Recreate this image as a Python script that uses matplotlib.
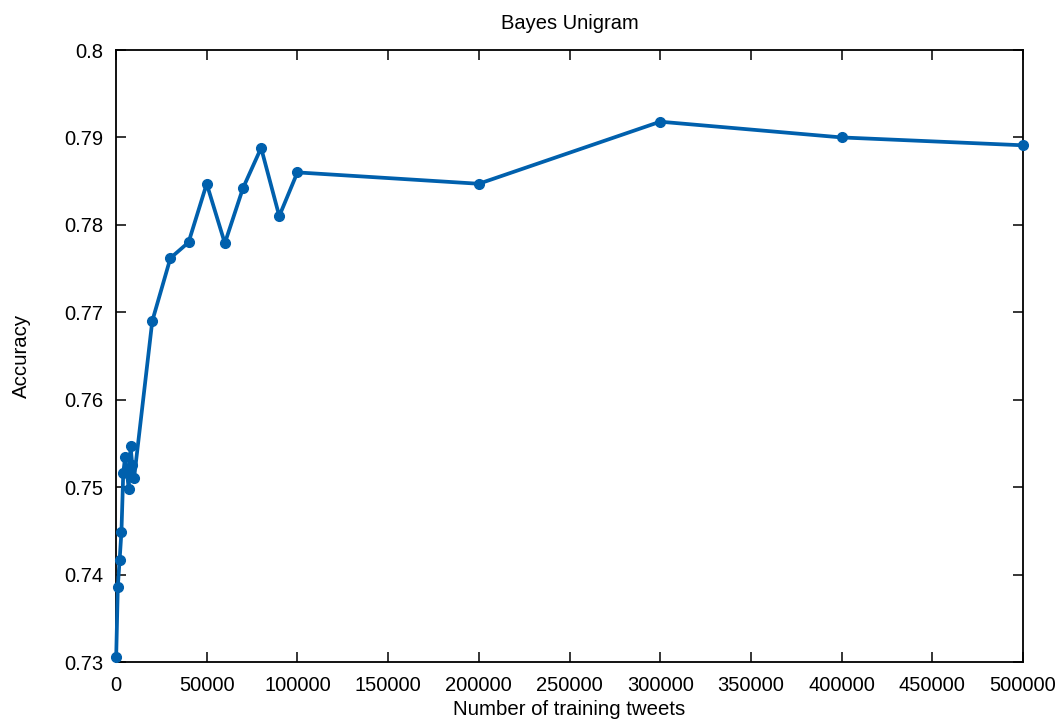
import matplotlib
matplotlib.use("Agg")
import matplotlib.pyplot as plt

plt.rcParams['font.family'] = ['Liberation Sans', 'DejaVu Sans']

# training set sizes and measured accuracy
train_sizes = [100, 1000, 2000, 3000, 4000, 5000, 6000, 7000, 8000, 9000, 10000,
               20000, 30000, 40000, 50000, 60000, 70000, 80000, 90000, 100000,
               200000, 300000, 400000, 500000]
accuracy = [0.7306, 0.7386, 0.7417, 0.7449, 0.7516, 0.7534, 0.7518, 0.7498,
            0.7547, 0.7525, 0.7511,
            0.7690, 0.7762, 0.7780, 0.7847, 0.7779, 0.7842, 0.7888, 0.7810,
            0.7860,
            0.7847, 0.7918, 0.7900, 0.7891]

x_ticks = [0, 50000, 100000, 150000, 200000, 250000, 300000, 350000, 400000,
           450000, 500000]
y_ticks = [0.73, 0.74, 0.75, 0.76, 0.77, 0.78, 0.79, 0.8]
y_tick_labels = ['0.73', '0.74', '0.75', '0.76', '0.77', '0.78', '0.79', '0.8']

fig = plt.figure(figsize=(10.62, 7.25), dpi=100)
ax = fig.add_axes([116 / 1062, 1 - 662 / 725, (1023 - 116) / 1062, (662 - 50) / 725])

ax.plot(train_sizes, accuracy, color='#0060ad', linewidth=2.7, marker='o',
        markersize=7, clip_on=False, zorder=3)

ax.set_xlim(0, 500000)
ax.set_ylim(0.73, 0.8)
ax.set_xticks(x_ticks)
ax.set_xticklabels([str(t) for t in x_ticks])
ax.set_yticks(y_ticks)
ax.set_yticklabels(y_tick_labels)

ax.tick_params(axis='both', direction='in', length=7, width=1.1, top=True,
               right=True, labelsize=14.5)
ax.tick_params(axis='x', pad=10)
ax.tick_params(axis='y', pad=9)
for side in ax.spines.values():
    side.set_linewidth(1.3)

ax.set_title('Bayes Unigram', fontsize=14.5, pad=15)
ax.set_xlabel('Number of training tweets', fontsize=14.7, labelpad=4)
ax.set_ylabel('Accuracy', fontsize=14.7, labelpad=24)

fig.savefig('out.png', dpi=100)
